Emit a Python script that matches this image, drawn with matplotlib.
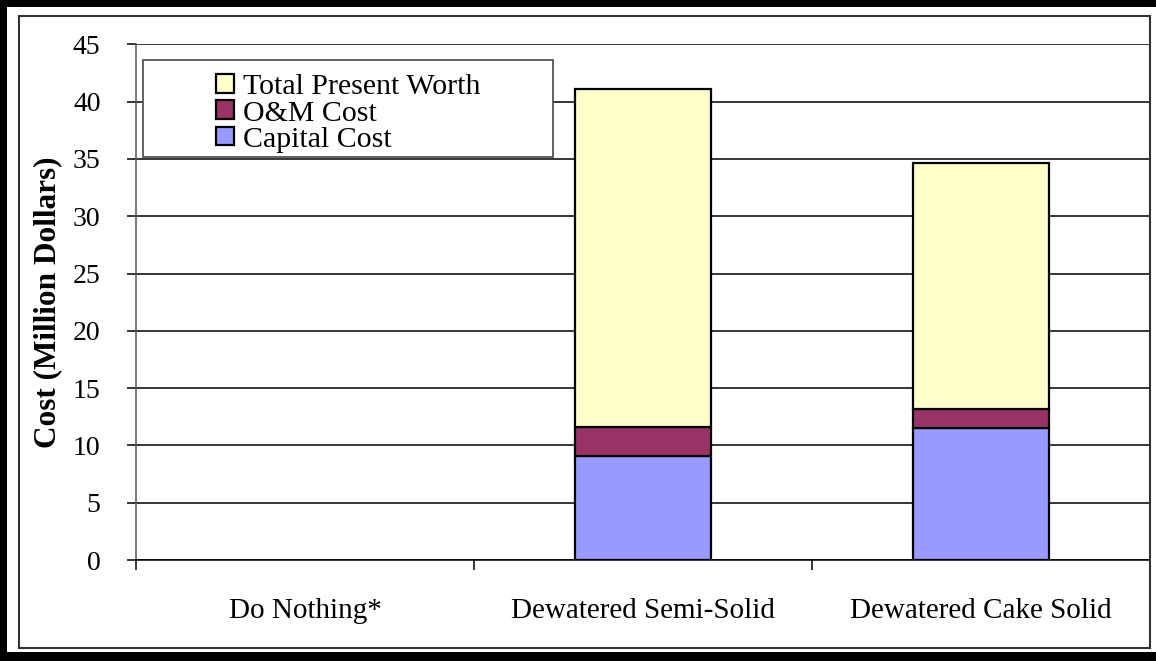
import matplotlib
matplotlib.use("Agg")
import matplotlib.pyplot as plt
from matplotlib.patches import Rectangle, Patch
import numpy as np

plt.rcParams['font.family'] = ['Liberation Serif', 'DejaVu Serif']

categories = ["Do Nothing*", "Dewatered Semi-Solid", "Dewatered Cake Solid"]
capital_cost = [0.0, 9.1, 11.5]
om_cost = [0.0, 2.5, 1.7]
total_present_worth = [0.0, 41.1, 34.6]

series_labels = ["Total Present Worth", "O&M Cost", "Capital Cost"]
colors = {"Total Present Worth": "#FFFFCC", "O&M Cost": "#993366", "Capital Cost": "#9999FF"}
y_ticks = [0, 5, 10, 15, 20, 25, 30, 35, 40, 45]

W, H = 1156, 661
fig = plt.figure(figsize=(W / 100, H / 100), dpi=100)
ax = fig.add_axes([136 / W, 1 - 560 / H, (1150 - 136) / W, (560 - 44.3) / H])

x = np.arange(len(categories))
cap = np.array(capital_cost)
om = np.array(om_cost)
tpw = np.array(total_present_worth)
has = tpw > 0

bw = 0.4
ekw = dict(edgecolor="black", linewidth=1.6, zorder=3)
ax.bar(x[has], cap[has], bw, color=colors["Capital Cost"], **ekw)
ax.bar(x[has], om[has], bw, bottom=cap[has], color=colors["O&M Cost"], **ekw)
base = cap + om
ax.bar(x[has], (tpw - base)[has], bw, bottom=base[has],
       color=colors["Total Present Worth"], **ekw)

ax.set_xlim(-0.5, len(categories) - 0.5)
ax.set_ylim(0, 45)
ax.set_yticks(y_ticks)
ax.set_yticklabels([str(v) for v in y_ticks], fontsize=20)
ax.yaxis.grid(True, color="black", linewidth=1.1, zorder=0)
ax.set_axisbelow(True)

ax.set_xticks(x)
ax.set_xticklabels(categories, fontsize=21)
ax.set_xticks(np.arange(len(categories) + 1) - 0.5, minor=True)
ax.tick_params(axis="x", which="major", length=0, pad=27)
ax.tick_params(axis="x", which="minor", length=7, width=1.1, color="black", direction="out")
ax.tick_params(axis="y", length=6.5, width=1.1, color="black", pad=19)

for s in ("top", "right"):
    ax.spines[s].set_visible(False)
ax.spines["left"].set_color("#555555")
ax.spines["left"].set_linewidth(1.1)
ax.spines["bottom"].set_color("black")
ax.spines["bottom"].set_linewidth(1.1)

ax.set_ylabel("Cost (Million Dollars)", fontsize=22.5, fontweight="bold")
ax.yaxis.set_label_coords(-(136 - 62) / (1150 - 136), 0.5)

# Legend frame drawn as its own box, entries centred inside it
lx0, lx1, ly0, ly1 = 143, 553, 60, 157
def to_ax(px, py):
    return ((px - 136) / (1150 - 136), (560 - py) / (560 - 44.3))
a0 = to_ax(lx0, ly1)
a1 = to_ax(lx1, ly0)
frame = Rectangle(a0, a1[0] - a0[0], a1[1] - a0[1], transform=ax.transAxes,
                  facecolor="white", edgecolor="#555555", linewidth=1.3, zorder=5)
ax.add_patch(frame)
anchor = to_ax((lx0 + lx1) / 2, (ly0 + ly1) / 2 + 5)
handles = [Patch(facecolor=colors[k], edgecolor="black", linewidth=1.6) for k in series_labels]
leg = ax.legend(handles, series_labels, loc="center", bbox_to_anchor=anchor,
                frameon=False, fontsize=21.5, handlelength=0.6, handleheight=0.6,
                handletextpad=0.3, labelspacing=0.0, borderpad=0)
leg.set_zorder(6)

# Page frame: heavy outer rule and thin inner box
fig.patches.append(Rectangle((0, 1 - 7 / H), 1, 7 / H, transform=fig.transFigure,
                             facecolor="black", edgecolor="none"))
fig.patches.append(Rectangle((0, 0), 7 / W, 1, transform=fig.transFigure,
                             facecolor="black", edgecolor="none"))
fig.patches.append(Rectangle((0, 0), 1, 9 / H, transform=fig.transFigure,
                             facecolor="black", edgecolor="none"))
fig.patches.append(Rectangle((19 / W, 1 - 648 / H), (1150 - 19) / W, (648 - 16) / H,
                             transform=fig.transFigure, facecolor="none",
                             edgecolor="#333333", linewidth=1.5))

fig.savefig("out.png", dpi=100)
